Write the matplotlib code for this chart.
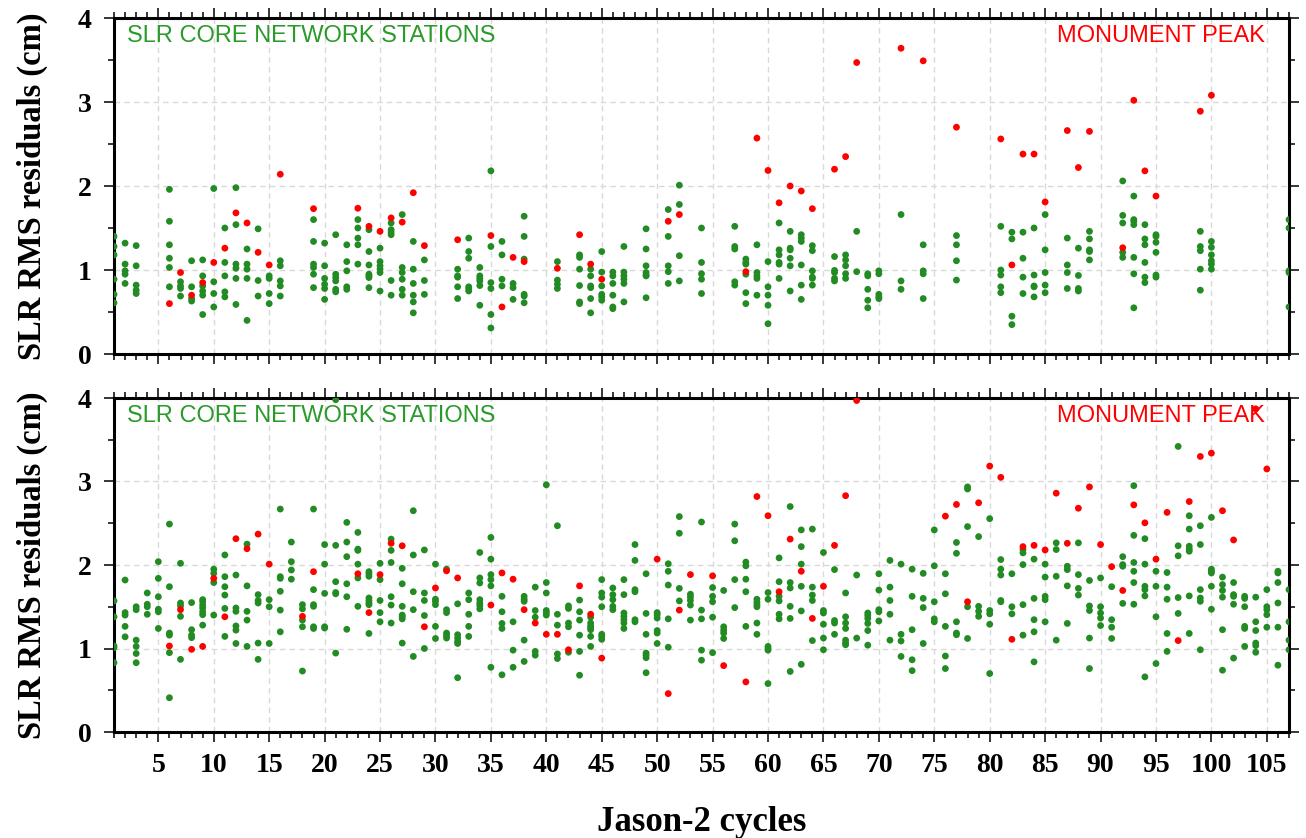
import matplotlib
matplotlib.use("Agg")
import matplotlib.pyplot as plt
from matplotlib.ticker import MultipleLocator

# ---------------- data (Jason-2 cycle -> SLR RMS residuals, cm) ----------------
# Top panel: core network stations
top_core_cycles = [1, 2, 3, 6, 7, 8, 9, 10, 11, 12, 13, 14, 15, 16, 19, 20, 21, 22, 23, 24,
                   25, 26, 27, 28, 29, 32, 33, 34, 35, 36, 37, 38, 41, 43, 44, 45, 46, 47, 49,
                   51, 52, 54, 57, 58, 59, 60, 61, 62, 63, 64, 66, 67, 68, 69, 70, 72, 74, 77,
                   81, 82, 83, 84, 85, 87, 88, 89, 92, 93, 94, 95, 99, 100, 107]
top_core_rms = [
    [1.40, 1.28, 1.18, 0.89, 0.71, 0.61], [1.32, 1.07, 0.99, 0.95, 0.84],
    [1.29, 1.05, 0.82, 0.76, 0.72], [1.96, 1.58, 1.30, 1.14, 1.03, 0.80],
    [0.86, 0.81, 0.78, 0.69], [1.11, 0.80, 0.66, 0.63],
    [1.12, 0.93, 0.81, 0.75, 0.70, 0.47], [1.97, 0.86, 0.72, 0.56],
    [1.50, 1.09, 0.93, 0.74, 0.68], [1.98, 1.54, 1.07, 1.02, 0.90, 0.59],
    [1.25, 1.07, 1.01, 0.90, 0.40], [1.49, 0.875, 0.69],
    [0.93, 0.90, 0.72, 0.60], [1.11, 1.05, 0.87, 0.81, 0.69],
    [1.60, 1.34, 1.07, 1.03, 0.95, 0.79], [1.32, 1.05, 0.90, 0.83, 0.78, 0.65],
    [1.42, 0.95, 0.91, 0.87, 0.77, 0.74], [1.30, 1.10, 0.99, 0.80, 0.77],
    [1.60, 1.50, 1.38, 1.30, 1.07], [1.48, 1.22, 1.06, 0.95, 0.93, 0.91, 0.79],
    [1.26, 1.10, 1.05, 1.01, 0.97, 0.75], [1.56, 1.48, 1.45, 1.42, 0.875, 0.70],
    [1.66, 1.03, 0.97, 0.89, 0.77, 0.70], [1.34, 1.01, 0.84, 0.70, 0.62, 0.49],
    [1.12, 0.875, 0.71], [1.01, 0.93, 0.915, 0.80, 0.66],
    [1.38, 1.22, 1.14, 0.80, 0.78, 0.75], [1.03, 0.93, 0.90, 0.87, 0.815, 0.58],
    [2.18, 1.28, 0.85, 0.78, 0.47, 0.31], [1.34, 1.18, 0.89, 0.81],
    [0.84, 0.79, 0.65], [1.64, 1.40, 1.13, 0.71, 0.69, 0.61],
    [1.10, 0.88, 0.83, 0.78], [1.18, 1.15, 1.01, 0.815, 0.62, 0.60],
    [1.01, 0.93, 0.81, 0.79, 0.66, 0.49], [1.22, 0.975, 0.81, 0.71, 0.68, 0.64],
    [0.975, 0.93, 0.84, 0.70, 0.56, 0.54], [1.28, 0.975, 0.93, 0.89, 0.84, 0.62],
    [1.49, 1.25, 1.05, 0.97, 0.94, 0.93, 0.67], [1.72, 1.40, 1.05, 0.98, 0.84],
    [2.01, 1.78, 1.17, 0.87], [1.50, 1.09, 0.955, 0.89, 0.72],
    [1.52, 1.28, 1.25, 0.86, 0.82], [1.13, 1.09, 1.07, 0.95, 0.73, 0.60],
    [1.30, 0.97, 0.93, 0.90, 0.70], [1.10, 0.80, 0.70, 0.58, 0.36],
    [1.56, 1.24, 1.18, 1.09, 1.07, 0.90], [1.46, 1.26, 1.24, 1.14, 1.05, 0.75],
    [1.42, 1.38, 1.34, 1.06, 0.82, 0.65], [1.29, 1.23, 0.99, 0.915, 0.90, 0.82],
    [1.16, 0.995, 0.97, 0.90, 0.87], [1.18, 1.12, 1.05, 0.955, 0.90],
    [1.46, 0.98], [0.955, 0.93, 0.77, 0.64, 0.55],
    [0.99, 0.955, 0.71, 0.68, 0.66], [1.66, 0.87, 0.77],
    [1.30, 0.99, 0.955, 0.66], [1.41, 1.30, 1.11, 0.88],
    [1.52, 1.00, 0.94, 0.80, 0.73], [1.45, 1.37, 0.45, 0.35],
    [1.45, 1.14, 0.915, 0.72], [1.50, 0.94, 0.81, 0.80, 0.68],
    [1.66, 1.24, 0.97, 0.82, 0.73], [1.38, 1.06, 0.97, 0.78],
    [1.26, 0.935, 0.78, 0.75], [1.46, 1.37, 1.24, 1.22, 1.12],
    [2.06, 1.65, 1.56, 1.21, 1.15], [1.88, 1.60, 1.58, 1.54, 1.15, 0.955, 0.55],
    [1.54, 1.37, 1.30, 1.09, 0.915, 0.85], [1.42, 1.40, 1.33, 1.21, 0.94, 0.915],
    [1.46, 1.28, 1.23, 1.01, 0.76], [1.34, 1.27, 1.18, 1.11, 1.07, 1.01],
    [1.60, 1.50, 0.99, 0.97, 0.56],
]

# Top panel: Monument Peak
top_mp_cycles = [6, 7, 8, 9, 10, 11, 12, 13, 14, 15, 16, 19, 23, 24, 25, 26, 27, 28, 29, 32,
                 35, 36, 37, 38, 41, 43, 44, 45, 51, 52, 58, 59, 60, 61, 62, 63, 64, 66, 67,
                 68, 72, 74, 77, 81, 82, 83, 84, 85, 87, 88, 89, 92, 93, 94, 95, 99, 100]
top_mp_rms = [0.60, 0.97, 0.70, 0.85, 1.09, 1.26, 1.68, 1.56, 1.21, 1.06, 2.14, 1.73, 1.735,
              1.52, 1.46, 1.62, 1.57, 1.92, 1.29, 1.36, 1.41, 0.56, 1.15, 1.10, 1.02, 1.42,
              1.07, 0.89, 1.58, 1.66, 0.98, 2.57, 2.185, 1.80, 2.00, 1.94, 1.73, 2.20, 2.35,
              3.47, 3.64, 3.49, 2.70, 2.56, 1.06, 2.38, 2.38, 1.81, 2.66, 2.22, 2.65, 1.265,
              3.02, 2.18, 1.88, 2.89, 3.08]

# Bottom panel: core network stations (one group per cycle, cycles 1..107)
bot_core_cycles = list(range(1, 108))
bot_core_rms = [
    [1.57, 1.38, 1.03, 1.01, 0.83], [1.82, 1.43, 1.40, 1.265, 1.14],
    [1.50, 1.465, 1.10, 1.025, 0.94, 0.83], [1.665, 1.53, 1.50, 1.41],
    [2.04, 1.84, 1.62, 1.47, 1.44, 1.24], [2.49, 1.74, 1.185, 1.16, 0.95, 0.41],
    [2.02, 1.545, 1.51, 1.385, 0.87], [1.55, 1.225, 1.16, 1.13],
    [1.585, 1.56, 1.52, 1.485, 1.44, 1.405, 1.28], [1.95, 1.90, 1.79, 1.40],
    [2.12, 1.86, 1.74, 1.64, 1.48, 1.145], [1.88, 1.485, 1.445, 1.27, 1.22, 1.06],
    [2.25, 1.75, 1.445, 1.34, 1.025], [1.645, 1.575, 1.545, 1.065, 0.87],
    [1.585, 1.50, 1.06], [2.67, 1.86, 1.84, 1.685, 1.46, 1.20],
    [2.275, 2.04, 1.94, 1.83], [1.525, 1.475, 1.34, 1.26, 0.73],
    [2.67, 1.705, 1.525, 1.505, 1.26, 1.24], [2.245, 2.01, 1.66, 1.26, 1.245],
    [3.98, 2.235, 1.80, 1.67, 1.655, 0.945], [2.51, 2.275, 2.10, 1.775, 1.62, 1.23],
    [2.39, 2.19, 2.175, 2.01, 1.845, 1.505], [1.92, 1.895, 1.865, 1.605, 1.575, 1.545, 1.525, 1.18],
    [2.02, 1.825, 1.575, 1.43, 1.32], [2.31, 2.175, 2.03, 1.62, 1.52, 1.305],
    [1.96, 1.775, 1.505, 1.40, 1.38, 1.355, 1.065], [2.65, 2.12, 1.68, 1.465, 0.905],
    [2.18, 1.665, 1.575, 1.395, 1.00], [2.01, 1.59, 1.565, 1.525, 1.265, 1.12],
    [1.95, 1.465, 1.43, 1.185, 1.155, 1.125], [1.535, 1.165, 1.125, 1.085, 1.06, 0.65],
    [1.665, 1.585, 1.41, 1.265, 1.145], [2.15, 1.845, 1.785, 1.585, 1.545, 1.515, 1.475],
    [2.33, 2.07, 1.885, 1.825, 1.75, 0.775], [1.625, 1.44, 1.30, 1.24, 0.685],
    [1.32, 0.98, 0.775], [1.625, 1.59, 1.565, 1.10, 0.845],
    [1.735, 1.455, 1.375, 0.965, 0.92], [2.96, 1.79, 1.665, 1.455, 1.43, 1.40],
    [2.47, 1.41, 1.28, 0.935, 0.88], [1.51, 1.48, 1.305, 1.26, 0.955],
    [1.58, 1.44, 1.34, 1.16, 0.965, 0.68], [1.375, 1.305, 1.27, 1.245, 1.225, 1.145, 1.025],
    [1.825, 1.665, 1.615, 1.50, 1.17, 1.145, 1.11], [1.725, 1.645, 1.585, 1.505, 1.465],
    [1.825, 1.645, 1.425, 1.385, 1.345, 1.305, 1.24], [2.245, 2.055, 1.705, 1.68, 1.345, 1.32],
    [1.895, 1.42, 1.17, 0.945, 0.92, 0.89, 0.71], [1.43, 1.405, 1.365, 1.215, 1.185, 1.06],
    [2.015, 1.925, 1.76, 1.355, 1.015], [2.58, 2.38, 1.72, 1.57],
    [1.65, 1.615, 1.575, 1.52, 1.34], [2.515, 1.46, 1.355, 0.98, 0.86],
    [1.73, 1.625, 1.56, 1.375, 0.95], [1.695, 1.26, 1.22, 1.185, 1.12],
    [2.49, 2.29, 1.825, 1.49], [2.035, 1.99, 1.83, 1.68, 1.265],
    [1.59, 1.555, 1.525, 1.50, 1.305, 1.17], [1.67, 1.59, 1.025, 1.00, 0.98, 0.58],
    [2.085, 1.80, 1.625, 1.57, 1.41, 1.355], [2.70, 1.79, 1.725, 1.505, 1.36, 0.725],
    [2.42, 2.22, 2.01, 1.745, 1.45, 0.81], [2.43, 1.735, 1.64, 1.575, 1.095],
    [2.15, 1.455, 1.425, 1.29, 1.125, 0.985], [1.945, 1.335, 1.305, 1.17],
    [1.665, 1.38, 1.305, 1.24, 1.10, 1.065, 1.045], [1.88, 1.125],
    [1.425, 1.395, 1.36, 1.30, 1.215, 1.04], [1.895, 1.70, 1.465, 1.44, 1.33],
    [2.055, 1.735, 1.575, 1.41, 1.10], [2.01, 1.17, 1.09, 0.905],
    [1.95, 1.625, 1.225, 0.865, 0.735], [1.90, 1.60, 1.49, 1.06],
    [2.42, 1.99, 1.56, 1.355, 1.32], [1.895, 1.655, 1.265, 0.91, 0.76],
    [2.27, 2.14, 1.32, 1.185, 1.165], [2.935, 2.91, 2.46, 1.50, 1.12],
    [2.34, 1.505, 1.445, 1.385], [2.555, 1.455, 1.415, 1.29, 0.70],
    [2.065, 1.95, 1.88, 1.575, 1.56], [1.895, 1.50, 1.415],
    [2.185, 2.145, 2.005, 1.525, 1.16], [2.07, 1.60, 1.345, 1.20, 0.84],
    [2.01, 1.855, 1.625, 1.585, 1.32], [2.265, 2.185, 1.865, 1.10],
    [1.985, 1.945, 1.75, 1.30], [2.265, 1.885, 1.72, 1.64],
    [1.815, 1.51, 1.455, 1.125, 0.76], [1.845, 1.50, 1.425, 1.365, 1.275],
    [1.74, 1.345, 1.255, 1.12], [2.10, 2.005, 1.985, 1.54],
    [2.95, 2.355, 2.03, 1.925, 1.79, 1.53], [2.315, 2.01, 1.745, 1.705, 1.63, 0.66],
    [1.925, 1.745, 1.38, 0.82], [1.91, 1.735, 1.59, 1.18, 0.965],
    [3.42, 2.23, 2.11, 1.61, 1.42], [2.59, 2.43, 2.225, 2.19, 2.165, 1.63, 1.18],
    [2.47, 2.245, 1.705, 1.605, 1.565, 0.985], [2.57, 1.95, 1.925, 1.905, 1.745, 1.47],
    [1.855, 1.765, 1.695, 1.615, 1.225, 0.74], [1.79, 1.645, 1.625, 1.53, 0.885],
    [1.625, 1.60, 1.50, 1.265, 1.24, 1.025], [1.615, 1.32, 1.215, 1.065, 1.035, 0.955],
    [1.705, 1.50, 1.465, 1.405, 1.255], [1.925, 1.905, 1.79, 1.545, 1.255, 0.80],
    [1.705, 1.32, 1.10, 0.985],
]

# Bottom panel: Monument Peak
bot_mp_cycles = [6, 7, 8, 9, 10, 11, 12, 13, 14, 15, 18, 19, 23, 24, 25, 26, 27, 29, 30, 31,
                 32, 35, 36, 37, 38, 39, 40, 41, 42, 43, 44, 45, 50, 51, 52, 53, 55, 56, 58,
                 59, 60, 61, 62, 63, 64, 65, 66, 67, 68, 76, 77, 78, 79, 80, 81, 82, 83, 84,
                 85, 86, 87, 88, 89, 90, 91, 92, 93, 94, 95, 96, 97, 98, 99, 100, 101, 102,
                 104, 105]
bot_mp_rms = [1.03, 1.465, 0.99, 1.025, 1.84, 1.38, 2.315, 2.195, 2.37, 2.01, 1.385, 1.92,
              1.895, 1.43, 1.885, 2.26, 2.23, 1.26, 1.725, 1.93, 1.845, 1.52, 1.905, 1.83,
              1.465, 1.305, 1.17, 1.17, 0.985, 1.75, 1.41, 0.885, 2.07, 0.46, 1.46, 1.885,
              1.87, 0.795, 0.60, 2.82, 2.59, 1.68, 2.31, 1.925, 1.36, 1.745, 2.235, 2.83,
              3.97, 2.585, 2.725, 1.56, 2.745, 3.185, 3.05, 1.11, 2.22, 2.235, 2.18, 2.86,
              2.26, 2.68, 2.935, 2.245, 1.98, 1.695, 2.72, 2.505, 2.07, 2.63, 1.095, 2.76,
              3.30, 3.34, 2.65, 2.30, 3.87, 3.15]

panel_label_left = "SLR CORE NETWORK STATIONS"
panel_label_right = "MONUMENT PEAK"
y_label = "SLR RMS residuals (cm)"
x_label = "Jason-2 cycles"

# ---------------- style ----------------
GREEN = "#238b23"
GREEN_TXT = "#2a9a2a"
RED = "#ff0000"
SERIF = ["Liberation Serif", "DejaVu Serif"]
SANS = ["Liberation Sans", "DejaVu Sans"]


def flatten(cycles, groups):
    xs, ys = [], []
    for c, vals in zip(cycles, groups):
        for v in vals:
            xs.append(c)
            ys.append(v)
    return xs, ys


fig = plt.figure(figsize=(13.06, 8.38), dpi=100)
W, H = 1306, 838
ax_top = fig.add_axes([114 / W, 1 - 354 / H, 1175 / W, 336 / H])
ax_bot = fig.add_axes([114 / W, 1 - 732 / H, 1175 / W, 334 / H])

panels = [
    (ax_top, top_core_cycles, top_core_rms, top_mp_cycles, top_mp_rms, False),
    (ax_bot, bot_core_cycles, bot_core_rms, bot_mp_cycles, bot_mp_rms, True),
]

for ax, cc, cr, mc, mr, show_x in panels:
    gx, gy = flatten(cc, cr)
    ax.scatter(gx, gy, s=24, color=GREEN, edgecolors="none", zorder=3)
    ax.scatter(mc, mr, s=24, color=RED, edgecolors="none", zorder=4)
    ax.set_xlim(1, 107)
    ax.set_ylim(0, 4)
    ax.xaxis.set_major_locator(MultipleLocator(5))
    ax.xaxis.set_minor_locator(MultipleLocator(1))
    ax.yaxis.set_major_locator(MultipleLocator(1))
    ax.yaxis.set_minor_locator(MultipleLocator(0.5))
    ax.grid(True, which="major", color="#d9d9d9", linestyle=(0, (4, 3)), linewidth=1.0, zorder=0)
    ax.set_axisbelow(True)
    for sp in ax.spines.values():
        sp.set_linewidth(2.2)
    ax.tick_params(which="both", direction="out", top=True, right=True, width=1.1, colors="black")
    ax.tick_params(which="major", length=7)
    ax.tick_params(which="minor", length=4)
    ax.tick_params(axis="x", labelbottom=show_x, labeltop=False, pad=8)
    ax.tick_params(axis="y", labelleft=True, labelright=False, pad=9)
    for lab in ax.get_xticklabels() + ax.get_yticklabels():
        lab.set_fontfamily(SERIF)
        lab.set_fontweight("bold")
        lab.set_fontsize(20)
    ax.set_ylabel(y_label, fontfamily=SERIF, fontweight="bold", fontsize=23.5)
    ax.yaxis.set_label_coords(-0.056, 0.5)
    ax.text(0.011, 0.945, panel_label_left, transform=ax.transAxes, color=GREEN_TXT,
            fontfamily=SANS, fontsize=17, ha="left", va="center", zorder=5)
    ax.text(0.9795, 0.945, panel_label_right, transform=ax.transAxes, color=RED,
            fontfamily=SANS, fontsize=17, ha="right", va="center", zorder=5)

ax_bot.set_xlabel(x_label, fontfamily=SERIF, fontweight="bold", fontsize=25, labelpad=20)

fig.savefig("out.png", dpi=100)
